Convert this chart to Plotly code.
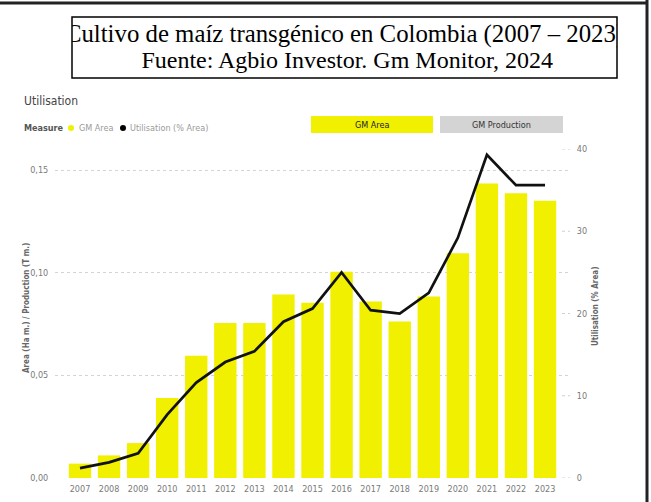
"""
Cultivo de maiz transgenico en Colombia (2007 - 2023)
Bar (GM area) + line (utilisation %) chart rebuilt with plotly
"""

import plotly.graph_objects as go

# ---- data -------------------------------------------------------------
years = [str(y) for y in range(2007, 2024)]
gm_area = [0.007, 0.011, 0.017, 0.039, 0.0595, 0.0755, 0.0755, 0.0894, 0.0854,
           0.1005, 0.086, 0.0762, 0.0884, 0.1094, 0.1434, 0.1387, 0.135]
utilisation = [1.2, 1.9, 3.0, 7.7, 11.6, 14.1, 15.4, 19.0, 20.6,
               25.0, 20.4, 20.0, 22.5, 29.2, 39.3, 35.6, 35.6]

left_ticks = [0, 0.05, 0.10, 0.15]
right_ticks = [0, 10, 20, 30, 40]

title_lines = ["Cultivo de maíz transgénico en Colombia (2007 – 2023)",
               "Fuente: Agbio Investor. Gm Monitor, 2024"]

# ---- styling ----------------------------------------------------------
W, H = 651, 502
YELLOW = "#F0F000"
NARROW = "Liberation Sans Narrow, DejaVu Sans Condensed, Arial Narrow, Roboto, sans-serif"
SERIF = "Liberation Serif, Times New Roman, serif"

# plot area in pixels
PL, PR, PT, PB = 55, 568, 149, 478
# title box in pixels
BL, BR, BT, BB = 72, 617, 17, 78


def px(x):
    """pixel x -> paper"""
    return x / W


def py(y):
    """pixel y (from top) -> paper"""
    return (H - y) / H


def label(text, x, y, size=9, color="#777", xanchor="left", angle=0):
    return dict(text=text, x=px(x), y=py(y), xref="paper", yref="paper",
                xanchor=xanchor, yanchor="middle", showarrow=False,
                textangle=angle, font=dict(family=NARROW, size=size, color=color))


def rect(x0, y0, x1, y1, fill=None, line_color=None, width=0, kind="rect"):
    return dict(type=kind, xref="paper", yref="paper",
                x0=px(x0), x1=px(x1), y0=py(y1), y1=py(y0),
                fillcolor=fill or "rgba(0,0,0,0)",
                line=dict(color=line_color or "rgba(0,0,0,0)", width=width))


fig = go.Figure()

fig.add_trace(go.Bar(x=years, y=gm_area, marker=dict(color=YELLOW, line=dict(width=0)),
                     name="GM Area", hoverinfo="x+y"))
fig.add_trace(go.Scatter(x=years, y=utilisation, yaxis="y2", mode="lines",
                         line=dict(color="#111111", width=2.7),
                         name="Utilisation (% Area)"))

# title text lives on its own hidden axes so it gets clipped by the box
fig.add_trace(go.Scatter(x=[0.5, 0.505], y=[0.70, 0.262], mode="text", text=title_lines,
                         xaxis="x3", yaxis="y3", cliponaxis=True, hoverinfo="skip",
                         textposition="middle center",
                         textfont=dict(family=SERIF, size=[24.8, 24], color="black")))

tick_font = dict(family=NARROW, size=9, color="#7a7a7a")

fig.update_layout(
    width=W, height=H,
    margin=dict(l=0, r=0, t=0, b=0),
    paper_bgcolor="white", plot_bgcolor="white",
    showlegend=False,
    separators=",.",
    bargap=0.23,
    xaxis=dict(domain=[px(PL), px(PR)], type="category", range=[-0.86, 16.79],
               showgrid=False, showline=False, zeroline=False,
               ticks="outside", ticklen=2, tickcolor="rgba(0,0,0,0)",
               tickfont=tick_font, automargin=False, fixedrange=True),
    yaxis=dict(domain=[py(PB), py(PT)], range=[0, 0.15 * (PB - PT) / (PB - 170)],
               tickvals=left_ticks, tickformat=".2f",
               showgrid=True, gridcolor="#d4d4d4", griddash="dot", gridwidth=1,
               zeroline=False, showline=False,
               ticks="outside", ticklen=4, tickcolor="rgba(0,0,0,0)",
               tickfont=tick_font, automargin=False),
    yaxis2=dict(overlaying="y", side="right", range=[0, 40], tickvals=right_ticks,
                showgrid=False, zeroline=False, showline=False,
                ticks="outside", ticklen=6, tickcolor="rgba(0,0,0,0)",
                tickfont=tick_font, automargin=False),
    xaxis3=dict(domain=[px(BL), px(BR)], range=[0, 1], visible=False, anchor="y3"),
    yaxis3=dict(domain=[py(BB), py(BT)], range=[0, 1], visible=False, anchor="x3"),
)

shapes = [
    # page frame (top and right edges)
    dict(type="line", xref="paper", yref="paper", x0=0, x1=px(648), y0=py(3), y1=py(3),
         line=dict(color="#222", width=3)),
    dict(type="line", xref="paper", yref="paper", x0=px(647), x1=px(647), y0=0, y1=1,
         line=dict(color="#222", width=3)),
    # title box
    rect(BL, BT, BR, BB, line_color="black", width=1.5),
    # slicer buttons
    rect(311, 116, 433, 133, fill=YELLOW),
    rect(440, 116, 563, 133, fill="#D4D4D4"),
    # legend dots
    rect(68, 125, 74, 131, fill=YELLOW, kind="circle"),
    rect(120, 125, 126, 131, fill="black", kind="circle"),
]
# short dotted stubs next to the right axis ticks
for v in right_ticks:
    shapes.append(dict(type="line", xref="paper", yref="y2", x0=px(562), x1=px(570),
                       y0=v, y1=v, line=dict(color="#cfcfcf", width=1, dash="dot")))
fig.update_layout(shapes=shapes)

fig.update_layout(annotations=[
    label("Utilisation", 22, 101, size=12, color="#444"),
    label("<b>Measure</b>", 22, 128, size=9, color="#555"),
    label("GM Area", 77, 128, size=9, color="#9a9a9a"),
    label("Utilisation (% Area)", 128, 128, size=9, color="#9a9a9a"),
    label("GM Area", 372, 125, size=9, color="#222", xanchor="center"),
    label("GM Production", 501, 125, size=9, color="#333", xanchor="center"),
    label("<b>Area (Ha m.) / Production (T m.)</b>", 26, 308, size=8, color="#666",
          xanchor="center", angle=-90),
    label("<b>Utilisation (% Area)</b>", 595, 307, size=8, color="#666",
          xanchor="center", angle=-90),
])

# drop the default body margin so the figure sits at the page's top-left corner
fig.write_html("out.html", config={"displayModeBar": False},
               post_script="document.body.style.margin='0px';")
